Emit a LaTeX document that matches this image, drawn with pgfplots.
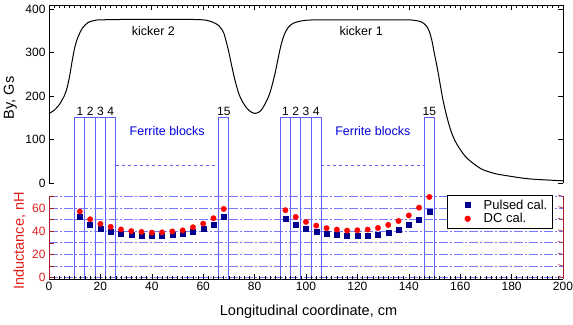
\documentclass[border=0pt]{standalone}
\usepackage{fontspec}
\setmainfont{Liberation Sans}
\usepackage{pgfplots}
\usepackage{pgfplotstable}
\pgfplotsset{compat=1.18}

\definecolor{blk}{RGB}{95,95,255}
\definecolor{gridc}{RGB}{120,120,255}
\definecolor{axred}{RGB}{165,25,40}
\definecolor{labred}{RGB}{225,30,30}
\definecolor{navyc}{RGB}{0,0,140}
\definecolor{dcred}{RGB}{255,0,0}

\pgfplotstableread{
x pulsed dc
12 52.3 57.0
16 45.7 50.3
20 42.0 46.3
24 39.4 43.7
28 37.9 41.5
32 36.8 40.1
36 36.1 39.4
40 36.0 38.8
44 36.3 39.0
48 37.0 39.8
52 38.1 40.7
56 39.7 43.4
60 42.0 46.5
64 46.0 51.2
68 52.6 59.2
92 51.2 58.1
96 46.0 52.3
100 42.2 48.0
104 39.4 44.8
108 37.9 42.6
112 36.8 41.4
116 36.2 40.5
120 36.2 40.8
124 36.5 41.4
128 37.4 42.8
132 39.1 45.4
136 41.6 48.8
140 45.4 53.6
144 50.0 60.3
148 56.9 69.5
}\inductance

\begin{document}
\begin{tikzpicture}[x=1pt,y=1pt]
% ---------------- top panel: By ----------------
\begin{axis}[
  at={(49pt,141pt)}, anchor=south west, scale only axis,
  width=514pt, height=177.5pt,
  xmin=0, xmax=200, ymin=0, ymax=408,
  axis x line*=top, axis y line*=left,
  xtick={0,20,...,200}, xticklabels={}, minor x tick num=9,
  ytick={0,100,...,400},
  tick align=inside,
  major tick length=5pt, minor tick length=3pt,
  tick style={black, line width=0.6pt},
  axis line style={line width=0.8pt},
  clip=false,
  ticklabel style={font=\fontsize{12}{14}\selectfont},
  /pgf/number format/assume math mode=true,
]
% ferrite blocks (span down to the bottom panel)
\draw[blk, line width=1pt] (axis cs:10,-220.7) rectangle (axis cs:14,150);
\draw[blk, line width=1pt] (axis cs:14,-220.7) rectangle (axis cs:18,150);
\draw[blk, line width=1pt] (axis cs:18,-220.7) rectangle (axis cs:22,150);
\draw[blk, line width=1pt] (axis cs:22,-220.7) rectangle (axis cs:26,150);
\draw[blk, line width=1pt] (axis cs:66,-220.7) rectangle (axis cs:70,150);
\draw[blk, line width=1pt] (axis cs:90,-220.7) rectangle (axis cs:94,150);
\draw[blk, line width=1pt] (axis cs:94,-220.7) rectangle (axis cs:98,150);
\draw[blk, line width=1pt] (axis cs:98,-220.7) rectangle (axis cs:102,150);
\draw[blk, line width=1pt] (axis cs:102,-220.7) rectangle (axis cs:106,150);
\draw[blk, line width=1pt] (axis cs:146,-220.7) rectangle (axis cs:150,150);
\draw[blk, line width=1.1pt, dash pattern=on 3pt off 3pt] (axis cs:26,40) -- (axis cs:66,40);
\draw[blk, line width=1.1pt, dash pattern=on 3pt off 3pt] (axis cs:106,40) -- (axis cs:146,40);
% field curve
\addplot[black, line width=1pt, smooth] coordinates {
(0,160)(2,167)(4,180)(5,190)(6,201)(7,218)(8,245)(9,280)(10,311)(11,331)
(12,345)(13,356)(14,363)(15,368)(16,371)(18,374)(20,375)(30,376)(40,376)
(50,376)(55,376)(60,375)(62,373)(64,369)(65,366)(66,362)(67,355)(68,345)
(69,324)(70,300)(71,272)(72,245)(73,222)(74,203)(75,190)(76,180)(77,172)
(78,166)(79,162)(80,160)(81,161)(82,164)(83,171)(84,181)(85,193)(86,208)
(87,229)(88,253)(89,282)(90,310)(91,332)(92,347)(93,357)(94,363)(95,367)
(97,371)(100,374)(105,375)(120,375)(135,375)(140,375)(142,374)(144,372)
(145,370)(146,366)(147,360)(148,348)(149,327)(150,296)(151,267)(152,234)
(153,200)(154,172)(155,148)(156,127)(157,110)(158,97)(159,86)(160,77)
(162,61)(164,50)(166,41)(168,33)(170,28)(174,21)(180,15)(186,10)(192,7.5)(200,5)
};
% right axis line with ticks
\draw[line width=0.8pt] (rel axis cs:1,0) -- (rel axis cs:1,1);
\draw[line width=0.6pt] (axis cs:200,0) -- ++(-5pt,0);
\draw[line width=0.6pt] (axis cs:200,100) -- ++(-5pt,0);
\draw[line width=0.6pt] (axis cs:200,200) -- ++(-5pt,0);
\draw[line width=0.6pt] (axis cs:200,300) -- ++(-5pt,0);
\draw[line width=0.6pt] (axis cs:200,400) -- ++(-5pt,0);
% texts
\node[anchor=base, font=\fontsize{12.5}{14}\selectfont] at (axis cs:40.6,340) {kicker 2};
\node[anchor=base, font=\fontsize{12.5}{14}\selectfont] at (axis cs:121.5,340) {kicker 1};
\node[anchor=base, font=\fontsize{12.5}{14}\selectfont, text=blue!85!black] at (axis cs:46,110) {Ferrite blocks};
\node[anchor=base, font=\fontsize{12.5}{14}\selectfont, text=blue!85!black] at (axis cs:126,110) {Ferrite blocks};
\node[anchor=base, font=\fontsize{12}{14}\selectfont] at (axis cs:12,156) {1};
\node[anchor=base, font=\fontsize{12}{14}\selectfont] at (axis cs:16,156) {2};
\node[anchor=base, font=\fontsize{12}{14}\selectfont] at (axis cs:20,156) {3};
\node[anchor=base, font=\fontsize{12}{14}\selectfont] at (axis cs:24,156) {4};
\node[anchor=base, font=\fontsize{12}{14}\selectfont] at (axis cs:68,156) {15};
\node[anchor=base, font=\fontsize{12}{14}\selectfont] at (axis cs:92,156) {1};
\node[anchor=base, font=\fontsize{12}{14}\selectfont] at (axis cs:96,156) {2};
\node[anchor=base, font=\fontsize{12}{14}\selectfont] at (axis cs:100,156) {3};
\node[anchor=base, font=\fontsize{12}{14}\selectfont] at (axis cs:104,156) {4};
\node[anchor=base, font=\fontsize{12}{14}\selectfont] at (axis cs:148,156) {15};
\node[rotate=90, anchor=base, font=\fontsize{14.5}{16}\selectfont] at ([xshift=-35pt]rel axis cs:0,0.48) {By, Gs};
\end{axis}

% ---------------- bottom panel: inductance ----------------
\begin{axis}[
  at={(49pt,45pt)}, anchor=south west, scale only axis,
  width=514pt, height=82.6pt,
  xmin=0, xmax=200, ymin=-1.2, ymax=70,
  axis x line*=bottom, axis y line*=left,
  xtick={0,20,...,200}, minor x tick num=9,
  ytick={0,10,...,70}, yticklabels={0,,20,,40,,60,},
  tick align=inside,
  major tick length=5pt, minor tick length=3pt,
  tick style={black, line width=0.6pt},
  ytick style={axred, line width=0.6pt},
  x axis line style={black, line width=0.8pt},
  y axis line style={axred, line width=0.8pt},
  yticklabel style={text=labred},
  ticklabel style={font=\fontsize{12}{14}\selectfont},
  /pgf/number format/assume math mode=true,
  ymajorgrids,
  grid style={gridc, line width=0.8pt, dash pattern=on 9pt off 2pt on 2pt off 2pt},
  clip=false,
  legend style={at={(0.98,1.017)}, anchor=north east, draw=black, line width=0.8pt,
    fill=white, font=\fontsize{13}{15}\selectfont, inner xsep=3pt, inner ysep=2.5pt, row sep=-1.5pt},
  legend cell align=left,
  legend image code/.code={\path (-0.28cm,0cm) (0.78cm,0cm);
    \draw[mark repeat=2,mark phase=2,#1] plot coordinates {(0cm,0cm)(0.3cm,0cm)(0.6cm,0cm)};},
]
\addplot[only marks, mark=square*, mark size=2.5pt, navyc, mark options={draw=navyc, fill=navyc}] table[x=x, y=pulsed] {\inductance};
\addlegendentry{Pulsed cal.}
\addplot[only marks, mark=*, mark size=2.7pt, dcred, mark options={draw=dcred, fill=dcred}] table[x=x, y=dc] {\inductance};
\addlegendentry{DC cal.}
% right axis line with ticks
\draw[axred, line width=0.8pt] (rel axis cs:1,0) -- (axis cs:200,70);
\draw[axred, line width=0.6pt] (axis cs:200,0) -- ++(-5pt,0);
\draw[axred, line width=0.6pt] (axis cs:200,10) -- ++(-5pt,0);
\draw[axred, line width=0.6pt] (axis cs:200,20) -- ++(-5pt,0);
\draw[axred, line width=0.6pt] (axis cs:200,30) -- ++(-5pt,0);
\draw[axred, line width=0.6pt] (axis cs:200,40) -- ++(-5pt,0);
\draw[axred, line width=0.6pt] (axis cs:200,50) -- ++(-5pt,0);
\draw[axred, line width=0.6pt] (axis cs:200,60) -- ++(-5pt,0);
\draw[axred, line width=0.6pt] (axis cs:200,70) -- ++(-5pt,0);
\node[rotate=90, anchor=base, font=\fontsize{14.5}{16}\selectfont, text=labred] at ([xshift=-25pt]rel axis cs:0,0.46) {Inductance, nH};
\node[anchor=base, font=\fontsize{14.5}{16}\selectfont] at ([yshift=-36pt]rel axis cs:0.505,0) {Longitudinal coordinate, cm};
\end{axis}
\pgfresetboundingbox
\path[use as bounding box] (0pt,0pt) rectangle (573pt,324pt);
\end{tikzpicture}
\end{document}
